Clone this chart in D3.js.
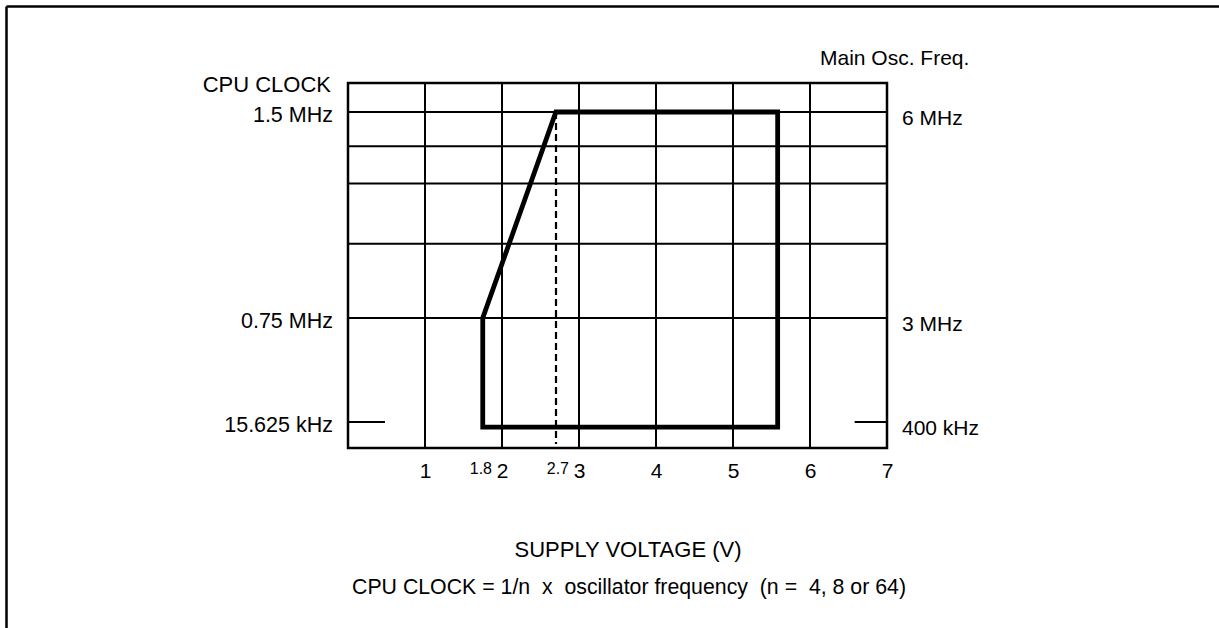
<!DOCTYPE html>
<html>
<head>
<meta charset="utf-8">
<script src="https://cdn.jsdelivr.net/npm/d3@7"></script>
<style>
  html, body { margin: 0; padding: 0; background: #fff; }
  svg { display: block; }
  text { font-family: "Liberation Sans", Arial, sans-serif; fill: #000; }
</style>
</head>
<body>
<svg id="chart" width="1219" height="628"></svg>
<script>
// ---- data ----
const voltageTicks = [1, 2, 3, 4, 5, 6, 7];          // x grid / tick labels (V)
const minorVoltLabels = [1.8, 2.7];                   // small voltage labels
const cpuClockLevels = [0.015625, 0.75, 1.5];         // CPU clock (MHz) labelled levels
const cpuClockLabels = ["15.625 kHz", "0.75 MHz", "1.5 MHz"];
const oscLabels = ["400 kHz", "3 MHz", "6 MHz"];      // main osc freq labels
const extraGridMHz = [1.02, 1.24, 1.375];             // unlabelled grid lines (MHz)
const regionVolt = [1.75, 1.75, 2.7, 5.58, 5.58];     // operating region outline (V)
const regionMHz  = [0.0125, 0.75, 1.5, 1.5, 0.0125];  // operating region outline (MHz)
const dashedVolt = 2.7;
const xDomain = [0, 7];
const yDomain = [0, 0.015625, 0.75, 1.5, 1.606];

(function () {
// ---- layout ----
const svg = d3.select("#chart");
const pLeft = 348, pRight = 887, pTop = 83, pBottom = 448;

const x = d3.scaleLinear().domain(xDomain).range([pLeft, pRight]);
const y = d3.scaleLinear().domain(yDomain).range([pBottom, 422, 318, 112, pTop]);
const yMax = yDomain[yDomain.length - 1];

// page frame (top and left edges)
svg.append("line").attr("x1", 6.5).attr("y1", 6.5).attr("x2", 1219).attr("y2", 6.5)
  .attr("stroke", "#000").attr("stroke-width", 2.5);
svg.append("line").attr("x1", 6.5).attr("y1", 6.5).attr("x2", 6.5).attr("y2", 628)
  .attr("stroke", "#000").attr("stroke-width", 2.5);

const g = svg.append("g");

// horizontal grid lines
const hLevels = [0.75, 1.5].concat(extraGridMHz);
g.selectAll("line.hgrid").data(hLevels).enter().append("line")
  .attr("class", "hgrid")
  .attr("x1", x(0)).attr("x2", x(7))
  .attr("y1", d => y(d)).attr("y2", d => y(d))
  .attr("stroke", "#000").attr("stroke-width", 2);

// vertical grid lines
g.selectAll("line.vgrid").data(voltageTicks.slice(0, -1)).enter().append("line")
  .attr("class", "vgrid")
  .attr("x1", d => x(d)).attr("x2", d => x(d))
  .attr("y1", y(yMax)).attr("y2", y(0))
  .attr("stroke", "#000").attr("stroke-width", 2);

// short ticks at lowest level
g.append("line").attr("x1", x(0)).attr("x2", x(0.48))
  .attr("y1", y(0.015625)).attr("y2", y(0.015625))
  .attr("stroke", "#000").attr("stroke-width", 2);
g.append("line").attr("x1", x(6.58)).attr("x2", x(7))
  .attr("y1", y(0.015625)).attr("y2", y(0.015625))
  .attr("stroke", "#000").attr("stroke-width", 2);

// plot border
g.append("rect")
  .attr("x", x(0)).attr("y", y(yMax))
  .attr("width", x(7) - x(0)).attr("height", y(0) - y(yMax))
  .attr("fill", "none").attr("stroke", "#000").attr("stroke-width", 2.5);

// dashed line at 2.7 V
g.append("line")
  .attr("x1", Math.round(x(dashedVolt))).attr("x2", Math.round(x(dashedVolt)))
  .attr("y1", y(1.5)).attr("y2", y(0) - 4)
  .attr("stroke", "#000").attr("stroke-width", 2.2)
  .attr("stroke-dasharray", "7,4");

// operating region outline
const pts = regionVolt.map((v, i) => [x(v), y(regionMHz[i])]);
g.append("path")
  .attr("d", d3.line()(pts) + "Z")
  .attr("fill", "none").attr("stroke", "#000").attr("stroke-width", 4.8)
  .attr("stroke-linejoin", "miter");

// x tick labels
const xAxis = d3.axisBottom(x).tickValues(voltageTicks).tickFormat(d3.format("d"))
  .tickSize(0).tickPadding(0);
const ax = svg.append("g").attr("transform", `translate(0,${pBottom})`).call(xAxis);
ax.select(".domain").remove();
ax.selectAll("text")
  .attr("y", 30).attr("dy", 0)
  .style("font-family", '"Liberation Sans", Arial, sans-serif')
  .style("font-size", "21px").attr("fill", "#000");

// small voltage labels
svg.selectAll("text.minor").data(minorVoltLabels).enter().append("text")
  .attr("class", "minor")
  .attr("x", d => x(Math.ceil(d)) - 10)
  .attr("y", 474)
  .attr("text-anchor", "end")
  .style("font-size", "16px")
  .text(d => d3.format(".1f")(d));

// left labels
svg.selectAll("text.lab").data(cpuClockLevels).enter().append("text")
  .attr("class", "lab")
  .attr("x", pLeft - 15).attr("y", d => y(d) + 10)
  .attr("text-anchor", "end").style("font-size", "21.5px")
  .text((d, i) => cpuClockLabels[i]);
svg.append("text").attr("x", pLeft - 17).attr("y", pTop + 9)
  .attr("text-anchor", "end").style("font-size", "22px").text("CPU CLOCK");

// right labels
svg.selectAll("text.rlab").data(cpuClockLevels).enter().append("text")
  .attr("class", "rlab")
  .attr("x", pRight + 15).attr("y", d => y(d) + 13)
  .attr("text-anchor", "start").style("font-size", "21px")
  .text((d, i) => oscLabels[i]);
svg.append("text").attr("x", 820).attr("y", 65)
  .attr("text-anchor", "start").style("font-size", "21px").text("Main Osc. Freq.");

// axis title and note
svg.append("text").attr("x", 628).attr("y", 557)
  .attr("text-anchor", "middle").style("font-size", "22px").text("SUPPLY VOLTAGE (V)");
svg.append("text").attr("x", 629).attr("y", 594)
  .attr("text-anchor", "middle").style("font-size", "21.3px").style("white-space", "pre")
  .text("CPU CLOCK = 1/n  x  oscillator frequency  (n =  4, 8 or 64)");
})();
</script>
</body>
</html>
